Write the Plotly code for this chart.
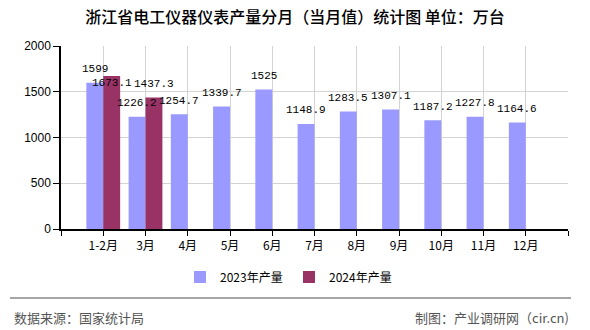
import plotly.graph_objects as go

# Monthly production of electrical instruments and meters in Zhejiang (unit: 10k sets)
months = ["1-2月", "3月", "4月", "5月", "6月", "7月", "8月", "9月", "10月", "11月", "12月"]
output_2023 = [1599, 1226.2, 1254.7, 1339.7, 1525, 1148.9, 1283.5, 1307.1, 1187.2, 1227.8, 1164.6]
output_2024 = [1673.1, 1437.3]
series_names = ["2023年产量", "2024年产量"]
y_ticks = [0, 500, 1000, 1500, 2000]

COLOR_2023 = "#9999ff"
COLOR_2024 = "#993366"
CJK = "Noto Sans CJK SC"

W, H = 590, 330
M_L, M_R, M_T, M_B = 61, 22, 46, 101
Y_MAX = 2000
plot_h = H - M_T - M_B
plot_w = W - M_L - M_R
px_per_unit = plot_h / Y_MAX

xs = list(range(len(months)))

fig = go.Figure()
fig.add_trace(go.Bar(x=xs, y=output_2023, name=series_names[0],
                     marker=dict(color=COLOR_2023, line=dict(width=0))))
fig.add_trace(go.Bar(x=xs[:len(output_2024)], y=output_2024, name=series_names[1],
                     marker=dict(color=COLOR_2024, line=dict(width=0))))

# value labels above the bars; a 2024 label that would collide with the
# 2023 label of the same month is moved just below it
LABEL_GAP = 13.5  # px between bar top and label centre
label_font = dict(family="Liberation Mono", size=11, color="#000")
annotations = []
label_y_2023 = {}
for i, v in enumerate(output_2023):
    y_lab = v + LABEL_GAP / px_per_unit
    label_y_2023[i] = y_lab
    annotations.append(dict(x=i, y=y_lab, xshift=-8.5, text=f"{v:g}", showarrow=False,
                            yanchor="middle", xanchor="center", font=label_font))
for i, v in enumerate(output_2024):
    y_lab = v + LABEL_GAP / px_per_unit
    if abs(y_lab - label_y_2023[i]) * px_per_unit < 12:
        y_lab = label_y_2023[i] - LABEL_GAP / px_per_unit
    annotations.append(dict(x=i, y=y_lab, xshift=8.5, text=f"{v:g}", showarrow=False,
                            yanchor="middle", xanchor="center", font=label_font))

# footer texts
footer_font = dict(family=CJK, size=13, color="#555")
annotations.append(dict(xref="paper", yref="paper", x=(12 - M_L) / plot_w,
                        y=(H - M_B - 317) / plot_h, xanchor="left", yanchor="middle",
                        text="数据来源：国家统计局", showarrow=False, font=footer_font))
annotations.append(dict(xref="paper", yref="paper", x=(571 - M_L) / plot_w,
                        y=(H - M_B - 317) / plot_h, xanchor="right", yanchor="middle",
                        text="制图：产业调研网（cir.cn)", showarrow=False, font=footer_font))

shapes = [dict(type="line", xref="paper", yref="paper",
               x0=(10 - M_L) / plot_w, x1=(571 - M_L) / plot_w,
               y0=(H - M_B - 298) / plot_h, y1=(H - M_B - 298) / plot_h,
               line=dict(color="#888", width=1.5))]

tick_vals = list(range(-1, len(months) + 1))
tick_text = [""] + months + [""]

fig.update_layout(
    width=W, height=H,
    margin=dict(l=M_L, r=M_R, t=M_T, b=M_B),
    paper_bgcolor="white", plot_bgcolor="white",
    barmode="group", bargap=0.2, bargroupgap=0,
    title=dict(text="浙江省电工仪器仪表产量分月（当月值）统计图 单位：万台",
               x=0.5, xanchor="center", y=1 - 17 / H, yanchor="middle",
               font=dict(family=CJK, size=16, color="#000", weight=500)),
    legend=dict(orientation="h", x=(289 - M_L) / plot_w, xanchor="center",
                y=(H - M_B - 277) / plot_h, yanchor="middle",
                font=dict(family=CJK, size=12, color="#000"),
                itemwidth=30, entrywidth=64, entrywidthmode="pixels"),
    xaxis=dict(range=[-1, len(months)], tickmode="array", tickvals=tick_vals,
               ticktext=tick_text, showgrid=True, gridcolor="#d3d3d3", gridwidth=1,
               showline=True, linecolor="#000", linewidth=1.5,
               ticks="outside", ticklen=5, tickcolor="#000",
               tickfont=dict(family=CJK, size=12, color="#000"), zeroline=False),
    yaxis=dict(range=[0, Y_MAX], tickmode="array", tickvals=y_ticks,
               showgrid=True, gridcolor="#d3d3d3", gridwidth=1,
               showline=True, linecolor="#000", linewidth=1.5,
               ticks="outside", ticklen=6, tickcolor="#000",
               tickfont=dict(family="Liberation Sans", size=12, color="#000"), zeroline=False),
    annotations=annotations, shapes=shapes,
    showlegend=True,
)

fig.write_html("out.html")
